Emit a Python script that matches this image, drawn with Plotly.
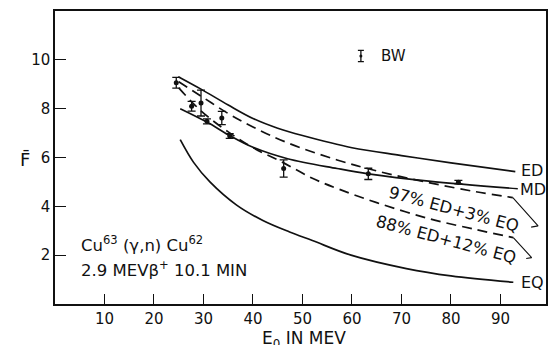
import plotly.graph_objects as go

# ---- data ----
E_ED = [24.9, 29.5, 35, 40, 45, 50, 60, 70, 80, 93]
F_ED = [9.31, 8.8, 8.15, 7.6, 7.2, 6.9, 6.4, 6.08, 5.78, 5.42]

E_MD = [25.3, 30.7, 35.3, 40, 47, 57, 63.3, 75.5, 93.5]
F_MD = [8.0, 7.45, 6.9, 6.42, 5.95, 5.55, 5.33, 5.03, 4.72]

E_97 = [25, 30, 35, 40, 47, 57, 65, 75.5, 85, 92.5]
F_97 = [9.1, 8.45, 7.8, 7.25, 6.6, 5.9, 5.45, 4.97, 4.6, 4.36]

E_88 = [25, 28, 31, 35, 40, 46, 52, 57.4, 65, 75.5, 85, 92.6]
F_88 = [8.85, 8.2, 7.65, 7.05, 6.4, 5.8, 5.15, 4.7, 4.15, 3.5, 3.05, 2.72]

E_EQ = [25.3, 28, 31.3, 36.7, 42, 47.4, 52, 59.8, 71, 80, 92.6]
F_EQ = [6.73, 5.8, 5.0, 4.05, 3.42, 2.95, 2.6, 2.0, 1.45, 1.15, 0.89]

E_pts = [24.5, 27.6, 29.5, 30.7, 33.7, 35.3, 46.2, 63.3, 81.5]
F_pts = [9.06, 8.1, 8.23, 7.48, 7.62, 6.88, 5.55, 5.33, 4.99]
F_err = [0.22, 0.2, 0.53, 0.1, 0.27, 0.1, 0.35, 0.23, 0.07]

# legend sample "BW"
BW_E, BW_F, BW_err = [61.8], [10.16], [0.23]

x_ticks = [10, 20, 30, 40, 50, 60, 70, 80, 90]
y_ticks = [2, 4, 6, 8, 10]

# leader lines from dashed curve ends to their labels
lead97_E, lead97_F = [92.5, 97.6, 96.2], [4.36, 3.2, 3.15]
lead88_E, lead88_F = [92.6, 96.3, 95.2], [2.72, 1.9, 1.86]

FONT = "DejaVu Sans"
BLACK = "#111111"

fig = go.Figure()

def curve(E, F, dash=None):
    fig.add_trace(go.Scatter(
        x=E, y=F, mode="lines", line_shape="spline",
        line=dict(color=BLACK, width=1.7, dash=dash), showlegend=False,
        hoverinfo="skip"))

curve(E_ED, F_ED)
curve(E_MD, F_MD)
curve(E_97, F_97, "10px,6px")
curve(E_88, F_88, "10px,6px")
curve(E_EQ, F_EQ)

for E, F in [(lead97_E, lead97_F), (lead88_E, lead88_F)]:
    fig.add_trace(go.Scatter(x=E, y=F, mode="lines",
                             line=dict(color=BLACK, width=1.1),
                             showlegend=False, hoverinfo="skip"))

fig.add_trace(go.Scatter(
    x=E_pts, y=F_pts, mode="markers",
    marker=dict(color=BLACK, size=5),
    error_y=dict(type="data", array=F_err, color=BLACK, thickness=1.3, width=4),
    showlegend=False))

fig.add_trace(go.Scatter(
    x=BW_E, y=BW_F, mode="markers",
    marker=dict(color=BLACK, size=3),
    error_y=dict(type="data", array=BW_err, color=BLACK, thickness=1.3, width=3),
    showlegend=False))

ann = []
def label(x, y, text, size=16, angle=0, xanchor="center", xref="x", yref="y"):
    ann.append(dict(x=x, y=y, xref=xref, yref=yref, text=text, showarrow=False,
                    textangle=angle, xanchor=xanchor, yanchor="middle",
                    font=dict(family=FONT, size=size, color=BLACK)))

label(96.4, 5.45, "ED")
label(96.6, 4.7, "MD")
label(96.4, 0.9, "EQ")
label(68.3, 10.15, "BW", size=15)
label(80.7, 3.88, "97% ED+3% EQ", size=16.5, angle=15)
label(78.9, 2.65, "88% ED+12% EQ", size=16.5, angle=15)
label(4.8, 2.45, "Cu<sup>63</sup> (γ,n) Cu<sup>62</sup>", size=16.5, xanchor="left")
label(4.8, 1.42, "2.9 MEVβ<sup>+</sup> 10.1 MIN", size=16.5, xanchor="left")
label(-0.061, 0.493, "F̄", size=18, xref="paper", yref="paper")
label(0.507, -0.12, "E<sub>0</sub> IN MEV", size=17, xref="paper", yref="paper")

fig.update_layout(
    width=550, height=345,
    margin=dict(l=55, r=2, t=11, b=41),
    paper_bgcolor="white", plot_bgcolor="white",
    annotations=ann,
    showlegend=False,
    xaxis=dict(range=[0, 99.2], tickvals=x_ticks, ticks="inside", ticklen=10,
               tickwidth=1.3, tickcolor=BLACK, showgrid=False, zeroline=False,
               showline=True, linecolor=BLACK, linewidth=1.5, mirror=True,
               tickfont=dict(family=FONT, size=15, color=BLACK)),
    yaxis=dict(range=[0, 12], tickvals=y_ticks, ticks="inside", ticklen=11,
               tickwidth=1.3, tickcolor=BLACK, showgrid=False, zeroline=False,
               showline=True, linecolor=BLACK, linewidth=1.5, mirror=True,
               tickfont=dict(family=FONT, size=15, color=BLACK)),
)

fig.write_html("out.html", config={"displayModeBar": False},
               post_script="document.body.style.margin='0';")
